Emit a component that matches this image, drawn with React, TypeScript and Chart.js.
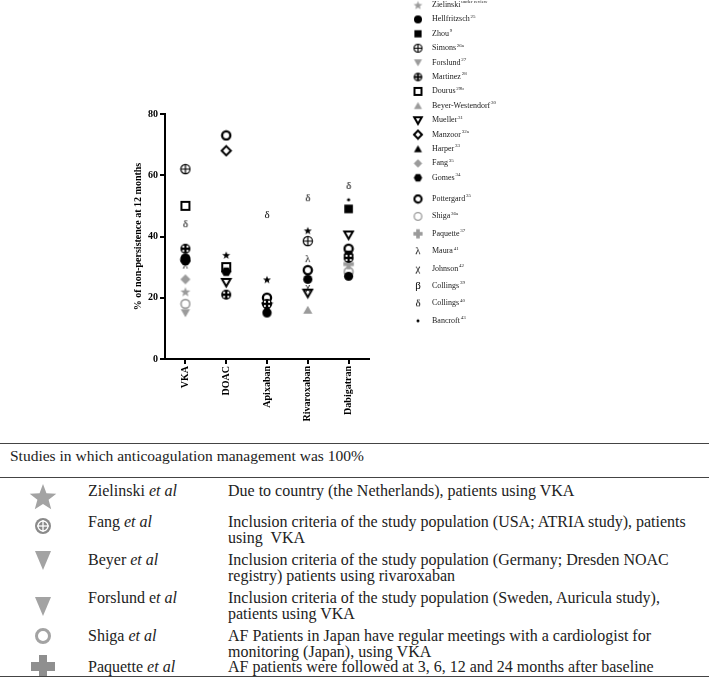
import React, { useEffect, useRef } from 'react';
import { Chart, registerables } from 'chart.js';

Chart.register(...registerables);

// ---------- data ----------
const categories = ['VKA', 'DOAC', 'Apixaban', 'Rivaroxaban', 'Dabigatran'];
const yTickValues = [0, 20, 40, 60, 80];

const zielinski = [22, 34, 26, 42, null];
const hellfritzsch = [33, null, 15, 26, 27];
const zhou = [null, null, null, null, 49];
const simons = [62, null, null, 38.5, null];
const forslund = [15, null, null, null, null];
const martinez = [36, 21, 18, null, 33];
const dourus = [50, 30, null, null, null];
const beyer = [null, null, null, 16, null];
const mueller = [null, 25, 17, 21.5, 40.5];
const manzoor = [null, 68, null, null, null];
const harper = [null, null, 16.5, null, null];
const fang = [26, null, null, null, null];
const gomes = [32, 28.5, null, null, 34];
const pottergard = [32.5, 73, 20, 29, 36];
const shiga = [18, null, null, null, 28.5];
const paquette = [null, null, null, null, 31];
const maura = [30.5, null, null, 32.6, null];
const johnson = [null, null, null, 23.5, null];
const collings39 = [null, null, null, null, 49];
const collings40 = [44, null, 47, 52.5, 56.5];
const bancroft = [null, null, null, null, 52];

const studyNames = ['Zielinski', 'Hellfritzsch', 'Zhou', 'Simons', 'Forslund', 'Martinez', 'Dourus',
  'Beyer-Westendorf', 'Mueller', 'Manzoor', 'Harper', 'Fang', 'Gomes', 'Pottergard', 'Shiga',
  'Paquette', 'Maura', 'Johnson', 'Collings', 'Collings', 'Bancroft'];
const studyRefs = ['under review', '25', '9', '26a', '27', '28', '29b', '30', '31', '32a', '33', '35',
  '34', '35', '36a', '37', '41', '42', '39', '40', '43'];
const studyValues = [zielinski, hellfritzsch, zhou, simons, forslund, martinez, dourus, beyer, mueller,
  manzoor, harper, fang, gomes, pottergard, shiga, paquette, maura, johnson, collings39, collings40, bancroft];

const tableAuthors = ['Zielinski', 'Fang', 'Beyer', 'Forslund', 'Shiga', 'Paquette'];
const tableReasons = [
  ['Due to country (the Netherlands), patients using VKA'],
  ['Inclusion criteria of the study population (USA; ATRIA study), patients', 'using\u00a0 VKA'],
  ['Inclusion criteria of the study population (Germany; Dresden NOAC', 'registry) patients using rivaroxaban'],
  ['Inclusion criteria of the study population (Sweden, Auricula study),', 'patients using VKA'],
  ['AF Patients in Japan have regular meetings with a cardiologist for', 'monitoring (Japan), using VKA'],
  ['AF patients were followed at 3, 6, 12 and 24 months after baseline'],
];

// ---------- styling helpers ----------
const GRAY = '#9b9b9b';
const BLACK = '#000';
const SERIF = '"Liberation Serif", "Times New Roman", serif';

type Draw = (c: CanvasRenderingContext2D, s: number, m: number) => void;
function icon(size: number, draw: Draw): HTMLCanvasElement {
  const cv = document.createElement('canvas');
  cv.width = size;
  cv.height = size;
  const c = cv.getContext('2d') as CanvasRenderingContext2D;
  draw(c, size, size / 2);
  return cv;
}
function starPath(c: CanvasRenderingContext2D, m: number, R: number) {
  c.beginPath();
  for (let i = 0; i < 10; i++) {
    const r = i % 2 ? R * 0.42 : R;
    const a = -Math.PI / 2 + (i * Math.PI) / 5;
    const x = m + r * Math.cos(a);
    const y = m + 0.6 + r * Math.sin(a);
    if (i === 0) c.moveTo(x, y); else c.lineTo(x, y);
  }
  c.closePath();
}
const star = (color: string, s: number, R: number) => icon(s, (c, _s, m) => { starPath(c, m, R); c.fillStyle = color; c.fill(); });
const dot = (color: string, s: number, r: number) => icon(s, (c, _s, m) => { c.beginPath(); c.arc(m, m, r, 0, Math.PI * 2); c.fillStyle = color; c.fill(); });
const square = (color: string, s: number, h: number) => icon(s, (c, _s, m) => { c.fillStyle = color; c.fillRect(m - h, m - h, 2 * h, 2 * h); });
const ring = (color: string, s: number, r: number, lw: number) => icon(s, (c, _s, m) => { c.beginPath(); c.arc(m, m, r, 0, Math.PI * 2); c.strokeStyle = color; c.lineWidth = lw; c.stroke(); });
const circlePlus = (s: number, r: number) => icon(s, (c, _s, m) => {
  c.strokeStyle = BLACK; c.lineWidth = 1.2;
  c.beginPath(); c.arc(m, m, r, 0, Math.PI * 2); c.stroke();
  c.beginPath(); c.moveTo(m - r, m); c.lineTo(m + r, m); c.moveTo(m, m - r); c.lineTo(m, m + r); c.stroke();
});
const circleX = (s: number, r: number) => icon(s, (c, _s, m) => {
  c.beginPath(); c.arc(m, m, r, 0, Math.PI * 2); c.fillStyle = BLACK; c.fill();
  c.fillStyle = '#fff';
  const d = r * 0.42;
  [[-d, -d], [d, -d], [-d, d], [d, d]].forEach(([dx, dy]) => { c.beginPath(); c.arc(m + dx, m + dy, r * 0.22, 0, Math.PI * 2); c.fill(); });
});
const tri = (color: string, s: number, h: number, down: boolean, filled: boolean) => icon(s, (c, _s, m) => {
  c.beginPath();
  const k = down ? 1 : -1;
  c.moveTo(m - h, m - k * h * 0.8);
  c.lineTo(m + h, m - k * h * 0.8);
  c.lineTo(m, m + k * h * 0.95);
  c.closePath();
  if (filled) { c.fillStyle = color; c.fill(); } else { c.strokeStyle = color; c.lineWidth = 2; c.lineJoin = 'miter'; c.stroke(); }
});
const openRect = (s: number, h: number) => icon(s, (c, _s, m) => { c.strokeStyle = BLACK; c.lineWidth = 2; c.strokeRect(m - h, m - h, 2 * h, 2 * h); });
const diamond = (color: string, s: number, h: number, filled: boolean) => icon(s, (c, _s, m) => {
  c.beginPath(); c.moveTo(m, m - h); c.lineTo(m + h, m); c.lineTo(m, m + h); c.lineTo(m - h, m); c.closePath();
  if (filled) { c.fillStyle = color; c.fill(); } else { c.strokeStyle = color; c.lineWidth = 2; c.stroke(); }
});
const hexagon = (s: number, r: number) => icon(s, (c, _s, m) => {
  c.beginPath();
  for (let i = 0; i < 6; i++) { const a = (i * Math.PI) / 3; const x = m + r * Math.cos(a); const y = m + r * Math.sin(a); if (i === 0) c.moveTo(x, y); else c.lineTo(x, y); }
  c.closePath(); c.fillStyle = BLACK; c.fill();
});
const plus = (color: string, s: number, h: number, w: number) => icon(s, (c, _s, m) => { c.fillStyle = color; c.fillRect(m - w, m - h, 2 * w, 2 * h); c.fillRect(m - h, m - w, 2 * h, 2 * w); });
const glyph = (ch: string, color: string, s: number, px: number) => icon(s, (c, _s, m) => {
  c.font = `${px}px ${SERIF}`; c.fillStyle = color; c.textAlign = 'center'; c.textBaseline = 'middle'; c.fillText(ch, m, m + 0.5);
});

function buildIcons() {
  const chartIcons: any[] = [
    [star(GRAY, 12, 5.2), star(BLACK, 10, 4.2), star(BLACK, 10, 4.2), star(BLACK, 10, 4.2), star(BLACK, 10, 4.2)],
    dot(BLACK, 11, 4.6),
    square(BLACK, 11, 4.3),
    circlePlus(12, 4.6),
    tri(GRAY, 12, 4.6, true, true),
    circleX(12, 5),
    openRect(12, 4),
    tri(GRAY, 12, 4.6, false, true),
    tri(BLACK, 13, 4.3, true, false),
    diamond(BLACK, 13, 4.6, false),
    tri(BLACK, 12, 4.6, false, true),
    diamond(GRAY, 12, 5, true),
    hexagon(12, 5),
    ring(BLACK, 12, 4.1, 2.3),
    ring(GRAY, 12, 4.4, 1.6),
    plus(GRAY, 13, 5.2, 2),
    glyph('\u03bb', BLACK, 12, 11),
    glyph('\u03c7', BLACK, 12, 11),
    glyph('\u03b2', '#fff', 12, 10),
    glyph('\u03b4', BLACK, 12, 11),
    dot(BLACK, 6, 1.6),
  ];
  const legendIcons: HTMLCanvasElement[] = [
    star(GRAY, 11, 4.6),
    dot(BLACK, 10, 4),
    square(BLACK, 10, 3.6),
    circlePlus(11, 4),
    tri(GRAY, 11, 4, true, true),
    circleX(11, 4.3),
    openRect(11, 3.5),
    tri(GRAY, 11, 4, false, true),
    tri(BLACK, 12, 3.8, true, false),
    diamond(BLACK, 12, 4, false),
    tri(BLACK, 11, 4, false, true),
    diamond(GRAY, 11, 4.2, true),
    hexagon(11, 4.2),
    ring(BLACK, 11, 3.6, 2.1),
    ring(GRAY, 11, 3.8, 1.3),
    plus(GRAY, 12, 4.6, 1.8),
    glyph('\u03bb', BLACK, 12, 11),
    glyph('\u03c7', BLACK, 12, 11),
    glyph('\u03b2', BLACK, 12, 11),
    glyph('\u03b4', BLACK, 12, 11),
    dot(BLACK, 6, 1.5),
  ];
  return { chartIcons, legendIcons };
}

function makeLegendPlugin(legendIcons: HTMLCanvasElement[]) {
  return {
    id: 'sideLegend',
    afterDraw(chart: any) {
      const ctx: CanvasRenderingContext2D = chart.ctx;
      ctx.save();
      studyNames.forEach((name, i) => {
        const y = i < 13 ? 5 + 14.4 * i : 199 + 17.4 * (i - 13);
        const ic = legendIcons[i];
        ctx.drawImage(ic, 418 - ic.width / 2, y - ic.height / 2);
        ctx.fillStyle = '#222';
        ctx.textBaseline = 'middle';
        ctx.textAlign = 'left';
        ctx.font = `8px ${SERIF}`;
        ctx.fillText(name, 432, y);
        const w = ctx.measureText(name).width;
        ctx.font = `5px ${SERIF}`;
        ctx.fillText(studyRefs[i], 432 + w + 0.8, y - 3);
      });
      ctx.restore();
    },
  };
}

function ScatterChart() {
  const ref = useRef<HTMLCanvasElement | null>(null);
  useEffect(() => {
    if (!ref.current) return;
    const { chartIcons, legendIcons } = buildIcons();
    const chart = new Chart(ref.current, {
      type: 'line',
      data: {
        labels: categories,
        datasets: studyValues.map((vals, i) => ({
          label: studyNames[i] + ' ' + studyRefs[i],
          data: vals as any,
          showLine: false,
          pointStyle: chartIcons[i],
          pointRadius: 5,
          pointHoverRadius: 5,
          borderColor: BLACK,
          backgroundColor: BLACK,
        })),
      },
      options: {
        responsive: false,
        animation: false,
        events: [],
        layout: { padding: { left: 132, top: 114, right: 340, bottom: 11 } },
        plugins: { legend: { display: false }, tooltip: { enabled: false } },
        scales: {
          x: {
            type: 'category',
            offset: true,
            afterFit: (s: any) => { s.height = 70; },
            border: { color: BLACK, width: 2 },
            grid: { drawOnChartArea: false, drawTicks: true, tickLength: 5, color: BLACK, lineWidth: 2 },
            ticks: { color: BLACK, padding: 2, minRotation: 90, maxRotation: 90, font: { family: SERIF, weight: 'bold', size: 10 } },
          },
          y: {
            min: 0,
            max: 80,
            afterFit: (s: any) => { s.width = 33; },
            afterBuildTicks: (s: any) => { s.ticks = yTickValues.map((v) => ({ value: v })); },
            border: { color: BLACK, width: 2 },
            grid: { drawOnChartArea: false, drawTicks: true, tickLength: 5, color: BLACK, lineWidth: 2 },
            ticks: { color: BLACK, padding: 2, font: { family: SERIF, weight: 'bold', size: 10 } },
            title: {
              display: true,
              text: '% of non-persistence at 12 months',
              color: BLACK,
              padding: { top: 0, bottom: 2 },
              font: { family: SERIF, weight: 'bold', size: 10 },
            },
          },
        },
      },
      plugins: [makeLegendPlugin(legendIcons)],
    } as any);
    return () => chart.destroy();
  }, []);
  return <canvas ref={ref} width={709} height={440} style={{ position: 'absolute', left: 0, top: 0, width: 709, height: 440 }} />;
}

function starPoints(cx: number, cy: number, R: number) {
  const pts: string[] = [];
  for (let i = 0; i < 10; i++) {
    const r = i % 2 ? R * 0.42 : R;
    const a = -Math.PI / 2 + (i * Math.PI) / 5;
    pts.push(`${(cx + r * Math.cos(a)).toFixed(2)},${(cy + r * Math.sin(a)).toFixed(2)}`);
  }
  return pts.join(' ');
}

const TGRAY = '#a3a3a3';
function TableIcon({ kind }: { kind: number }) {
  if (kind === 0) return <svg width="30" height="30"><polygon points={starPoints(15, 16, 14)} fill={TGRAY} /></svg>;
  if (kind === 1) return <svg width="20" height="20"><circle cx="10" cy="10" r="8" fill="#8a8a8a" /><circle cx="10" cy="10" r="5" fill="none" stroke="#fff" strokeWidth="1.3" /><line x1="4" y1="10" x2="16" y2="10" stroke="#fff" strokeWidth="1.3" /><line x1="10" y1="4" x2="10" y2="16" stroke="#fff" strokeWidth="1.3" /></svg>;
  if (kind === 2 || kind === 3) return <svg width="20" height="24"><polygon points="2,3 18,3 10,22" fill={TGRAY} /></svg>;
  if (kind === 4) return <svg width="20" height="20"><circle cx="10" cy="10" r="6.5" fill="none" stroke={TGRAY} strokeWidth="3" /></svg>;
  return <svg width="26" height="26"><rect x="9" y="1" width="8" height="25" fill="#8f8f8f" /><rect x="1" y="8" width="24" height="9" fill="#8f8f8f" /></svg>;
}

const rowTops = [483, 514, 552, 590, 628, 659];
const iconCenters = [497, 526, 560, 606, 636, 667];
const TXT = { fontSize: 16, lineHeight: '16px', color: '#222', whiteSpace: 'nowrap' as const };

export default function App() {
  return (
    <div style={{ position: 'relative', width: 709, height: 677, overflow: 'hidden', background: '#fff', fontFamily: SERIF }}>
      <style>{'body{margin:0;background:#fff}'}</style>
      <ScatterChart />
      <div style={{ position: 'absolute', left: 0, top: 443, width: 709, height: 1, background: '#444' }} />
      <div style={{ position: 'absolute', left: 10, top: 448, ...TXT, fontSize: 15.5 }}>
        Studies in which anticoagulation management was 100%
      </div>
      <div style={{ position: 'absolute', left: 0, top: 477, width: 709, height: 1, background: '#444' }} />
      {tableAuthors.map((a, i) => (
        <React.Fragment key={i}>
          <div style={{ position: 'absolute', left: 28, top: iconCenters[i] - 15, width: 30, height: 30, display: 'flex', alignItems: 'center', justifyContent: 'center' }}>
            <TableIcon kind={i} />
          </div>
          <div style={{ position: 'absolute', left: 88, top: rowTops[i], ...TXT }}>
            {i === 3 ? (<>{a} e<i>t al</i></>) : (<>{a} <i>et al</i></>)}
          </div>
          <div style={{ position: 'absolute', left: 228, top: rowTops[i], ...TXT }}>
            {tableReasons[i].map((l, j) => <div key={j}>{l}</div>)}
          </div>
        </React.Fragment>
      ))}
      <div style={{ position: 'absolute', left: 0, top: 676, width: 709, height: 1, background: '#444' }} />
    </div>
  );
}
